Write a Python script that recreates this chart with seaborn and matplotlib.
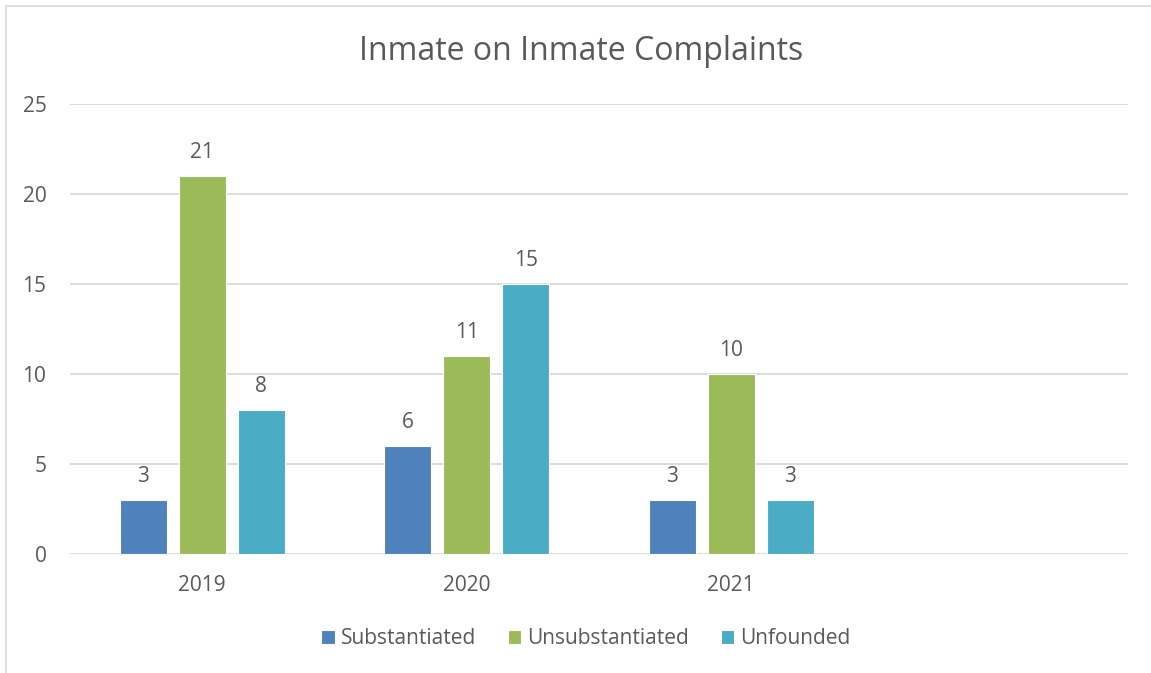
import matplotlib
matplotlib.use('Agg')
import matplotlib.pyplot as plt
import pandas as pd
import seaborn as sns
from matplotlib.lines import Line2D

# data
years = ['2019', '2020', '2021']
substantiated = [3, 6, 3]
unsubstantiated = [21, 11, 10]
unfounded = [8, 15, 3]
series_names = ['Substantiated', 'Unsubstantiated', 'Unfounded']
colors = ['#4F81BD', '#9BBB59', '#4BACC6']

df = pd.DataFrame({
    'year': years * 3,
    'count': substantiated + unsubstantiated + unfounded,
    'type': [s for s in series_names for _ in years],
})

sns.set_theme(style='white')
plt.rcParams['font.family'] = ['Open Sans', 'DejaVu Sans']
TXT = '#595959'

fig = plt.figure(figsize=(11.51, 6.73), dpi=100, facecolor='white')
ax = fig.add_axes([70/1151, 1 - 554/673, (1128 - 70)/1151, (554 - 104)/673])

sns.barplot(data=df, x='year', y='count', hue='type', order=years,
            hue_order=series_names, palette=colors, saturation=1,
            width=0.67, gap=0.2, edgecolor='white', linewidth=0.8, ax=ax)

for c in ax.containers:
    ax.bar_label(c, padding=9, fontsize=15, color=TXT)

# 4 category slots, the last one empty
ax.set_xlim(-0.5, 3.5)
ax.set_ylim(0, 25)
ax.set_yticks(range(0, 26, 5))
ax.yaxis.grid(True, color='#D9D9D9', lw=1.3)
ax.set_axisbelow(True)
for s in ax.spines.values():
    s.set_visible(False)
ax.set_xlabel('')
ax.set_ylabel('')
ax.tick_params(axis='both', length=0, labelsize=15, labelcolor=TXT)
ax.tick_params(axis='y', pad=17)
ax.tick_params(axis='x', pad=15)

fig.text(581/1151, 1 - 52/673, 'Inmate on Inmate Complaints',
         fontsize=23, color=TXT, ha='center', va='center')

ax.legend(loc='center', bbox_to_anchor=((586 - 70) / 1058, -(639 - 554) / 450),
          ncol=3, frameon=False, fontsize=15, labelcolor=TXT,
          handlelength=0.65, handleheight=0.65, handletextpad=0.3,
          columnspacing=1.5)

# outer chart border (left and top visible)
fig.add_artist(Line2D([6/1151, 6/1151], [0, 1 - 6/673], transform=fig.transFigure,
                      color='#D9D9D9', lw=1.2))
fig.add_artist(Line2D([6/1151, 1], [1 - 6/673, 1 - 6/673], transform=fig.transFigure,
                      color='#D9D9D9', lw=1.2))

fig.savefig('out.png', dpi=100, facecolor='white')
